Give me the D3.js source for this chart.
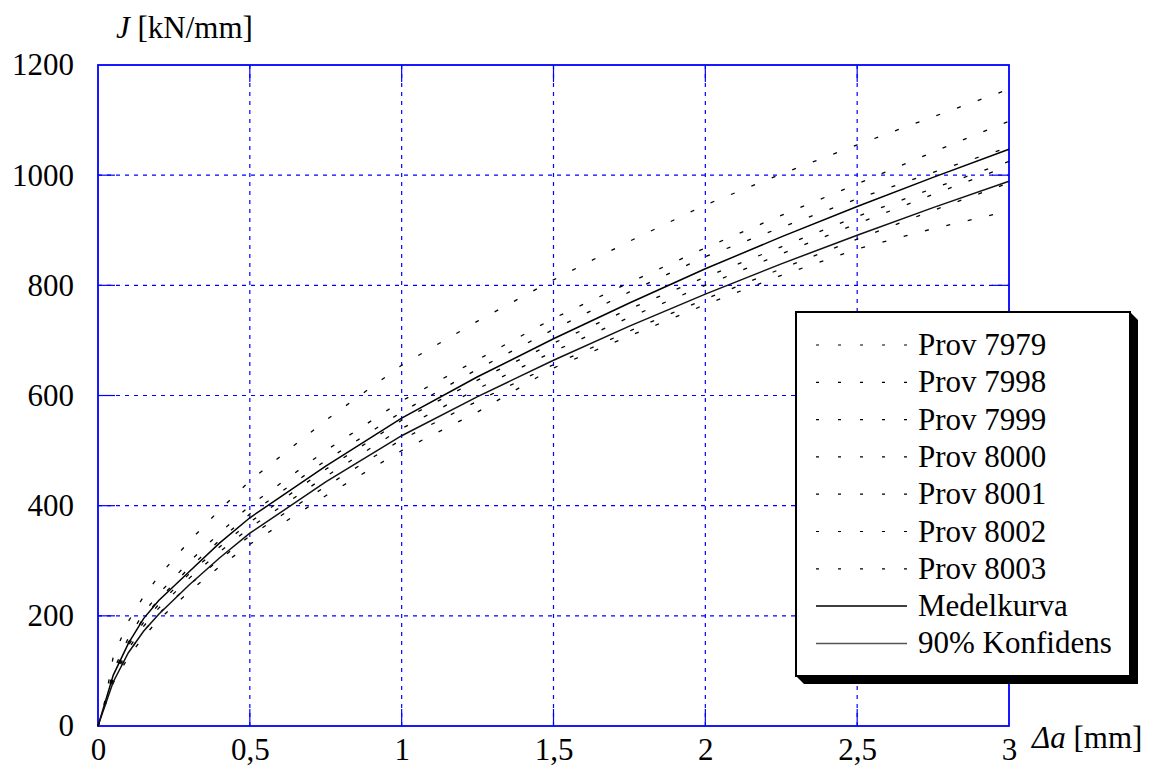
<!DOCTYPE html>
<html>
<head>
<meta charset="utf-8">
<script src="https://cdn.jsdelivr.net/npm/d3@7"></script>
<style>
 body { margin: 0; background: #fff; }
 svg text { font-family: "Liberation Serif", "Times New Roman", serif; }
</style>
</head>
<body>
<svg width="1153" height="767"></svg>
<script>
// Crack growth values (mm), shared by all curves
var da = [0, 0.025, 0.05, 0.1, 0.15, 0.2, 0.3, 0.4, 0.5, 0.75, 1, 1.25, 1.5, 1.75, 2, 2.25, 2.5, 2.75, 3];

// J values, one list per specimen
var prov7979 = [0, 50, 125, 190, 235, 272, 335, 392, 445, 555, 655, 735, 810, 880, 946, 1002, 1055, 1106, 1156];
var prov7998 = [0, 46, 100, 160, 205, 240, 298, 350, 400, 500, 590, 665, 740, 805, 868, 927, 984, 1042, 1098];
var prov7999 = [0, 45, 95, 152, 196, 230, 287, 337, 385, 482, 570, 648, 720, 788, 852, 905, 957, 1005, 1051];
var prov8000 = [0, 44, 90, 146, 188, 221, 276, 325, 370, 466, 555, 628, 695, 757, 815, 870, 925, 976, 1025];
var prov8001 = [0, 43, 86, 140, 181, 214, 268, 316, 360, 453, 540, 612, 680, 742, 800, 857, 912, 965, 1017];
var prov8002 = [0, 42, 82, 133, 172, 204, 256, 302, 345, 435, 520, 590, 656, 717, 775, 830, 884, 936, 986];
var prov8003 = [0, 40, 78, 125, 162, 193, 244, 289, 330, 418, 500, 570, 650, 708, 765, 818, 866, 903, 935];

// Mean curve and lower 90% confidence curve
var medel = [0, 46, 92, 150, 195, 228, 280, 332, 378, 472, 559, 634, 703, 768, 830, 888, 943, 996, 1047];
var konf90 = [0, 40, 80, 133, 172, 203, 256, 305, 350, 443, 527, 598, 664, 726, 784, 839, 891, 941, 989];

var provNames = ["Prov 7979", "Prov 7998", "Prov 7999", "Prov 8000", "Prov 8001", "Prov 8002", "Prov 8003"];
var provData = [prov7979, prov7998, prov7999, prov8000, prov8001, prov8002, prov8003];

var xTicks = [0, 0.5, 1, 1.5, 2, 2.5, 3];
var yTicks = [0, 200, 400, 600, 800, 1000, 1200];

var svg = d3.select("svg");
var pLeft = 98, pRight = 1009, pTop = 65, pBottom = 726;
var blue = "#0000ff";
var fontSize = "31px";

var x = d3.scaleLinear().domain([0, 3]).range([pLeft, pRight]);
var y = d3.scaleLinear().domain([0, 1200]).range([pBottom, pTop]);

var fmt = d3.formatLocale({ decimal: ",", thousands: "", grouping: [3], currency: ["", ""] }).format("~g");

// grid lines (dashed blue) with short solid ticks at the frame
var grid = svg.append("g");
yTicks.slice(1, -1).forEach(function(v) {
 grid.append("line")
  .attr("x1", pLeft).attr("x2", pRight)
  .attr("y1", y(v)).attr("y2", y(v))
  .attr("stroke", blue).attr("stroke-width", 1.2)
  .attr("stroke-dasharray", "4 5");
 grid.append("line").attr("x1", pLeft).attr("x2", pLeft + 17).attr("y1", y(v)).attr("y2", y(v))
  .attr("stroke", blue).attr("stroke-width", 1.2);
 grid.append("line").attr("x1", pRight - 17).attr("x2", pRight).attr("y1", y(v)).attr("y2", y(v))
  .attr("stroke", blue).attr("stroke-width", 1.2);
});
xTicks.slice(1, -1).forEach(function(v) {
 grid.append("line")
  .attr("x1", x(v)).attr("x2", x(v))
  .attr("y1", pTop).attr("y2", pBottom)
  .attr("stroke", blue).attr("stroke-width", 1.2)
  .attr("stroke-dasharray", "4 5");
 grid.append("line").attr("x1", x(v)).attr("x2", x(v)).attr("y1", pBottom - 17).attr("y2", pBottom)
  .attr("stroke", blue).attr("stroke-width", 1.2);
 grid.append("line").attr("x1", x(v)).attr("x2", x(v)).attr("y1", pTop).attr("y2", pTop + 17)
  .attr("stroke", blue).attr("stroke-width", 1.2);
});

// frame
svg.append("rect")
 .attr("x", pLeft).attr("y", pTop)
 .attr("width", pRight - pLeft).attr("height", pBottom - pTop)
 .attr("fill", "none").attr("stroke", blue).attr("stroke-width", 1.8);

// axes (labels only)
var xAxis = svg.append("g")
 .attr("transform", "translate(0," + pBottom + ")")
 .call(d3.axisBottom(x).tickValues(xTicks).tickFormat(fmt).tickSize(0).tickPadding(12));
var yAxis = svg.append("g")
 .attr("transform", "translate(" + pLeft + ",0)")
 .call(d3.axisLeft(y).tickValues(yTicks).tickFormat(fmt).tickSize(0).tickPadding(24));
[xAxis, yAxis].forEach(function(a) {
 a.attr("font-family", null).attr("font-size", null);
 a.select(".domain").remove();
 a.selectAll("text")
  .attr("font-size", fontSize)
  .attr("fill", "#000");
});

var line = d3.line()
 .x(function(d, i) { return x(da[i]); })
 .y(function(d) { return y(d); });

// specimen curves, sparse dashes
svg.selectAll(".prov")
 .data(provData)
 .enter()
 .append("path")
 .attr("class", "prov")
 .attr("d", line)
 .attr("fill", "none")
 .attr("stroke", "#000")
 .attr("stroke-width", 1.3)
 .attr("stroke-dasharray", "4 18");

svg.append("path")
 .attr("d", line(medel))
 .attr("fill", "none").attr("stroke", "#000").attr("stroke-width", 1.5);
svg.append("path")
 .attr("d", line(konf90))
 .attr("fill", "none").attr("stroke", "#111").attr("stroke-width", 1.5);

// axis titles
var yTitle = svg.append("text")
 .attr("x", 116).attr("y", 38)
 .attr("font-size", fontSize);
yTitle.append("tspan").attr("font-style", "italic").text("J");
yTitle.append("tspan").text(" [kN/mm]");

var xTitle = svg.append("text")
 .attr("x", 1032).attr("y", 748)
 .attr("font-size", fontSize);
xTitle.append("tspan").attr("font-style", "italic").text("Δa");
xTitle.append("tspan").text(" [mm]");

// legend
var lx = 796, ly = 312, lw = 334, lh = 364, sh = 8;
svg.append("polygon")
 .attr("points", [[lx + lw, ly], [lx + lw + sh, ly + sh], [lx + lw + sh, ly + lh + sh], [lx + sh, ly + lh + sh], [lx, ly + lh]].join(" "))
 .attr("fill", "#000");
svg.append("rect")
 .attr("x", lx).attr("y", ly).attr("width", lw).attr("height", lh)
 .attr("fill", "#fff").attr("stroke", "#000").attr("stroke-width", 2);

var legendItems = provNames.map(function(n) { return { name: n, type: "prov" }; })
 .concat([{ name: "Medelkurva", type: "medel" }, { name: "90% Konfidens", type: "konf" }]);

var rowY = d3.scaleLinear().domain([0, 1]).range([345, 382.3]);

var leg = svg.selectAll(".leg")
 .data(legendItems)
 .enter()
 .append("g")
 .attr("class", "leg")
 .attr("transform", function(d, i) { return "translate(0," + rowY(i) + ")"; });

leg.append("line")
 .attr("x1", 816).attr("x2", 907)
 .attr("y1", 0).attr("y2", 0)
 .attr("stroke", function(d) { return d.type == "konf" ? "#555" : "#000"; })
 .attr("stroke-width", function(d) { return d.type == "prov" ? 1.2 : 1.5; })
 .attr("stroke-dasharray", function(d) { return d.type == "prov" ? "3 19" : null; });

leg.append("text")
 .attr("x", 918).attr("y", 10)
 .attr("font-size", fontSize)
 .text(function(d) { return d.name; });
</script>
</body>
</html>
